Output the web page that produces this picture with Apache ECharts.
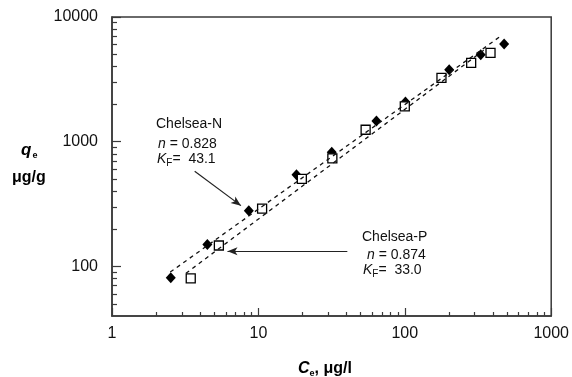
<!DOCTYPE html>
<html>
<head>
<meta charset="utf-8">
<script src="https://cdn.jsdelivr.net/npm/echarts@6/dist/echarts.min.js"></script>
<style>
html,body{margin:0;padding:0;background:#fff;}
#chart{width:572px;height:377px;}
</style>
</head>
<body>
<div id="chart"></div>
<script>
// ---- data ----
const chelseaN_C = [2.52, 4.48, 8.6, 18.2, 31.7, 64, 101, 201, 330, 477];
const chelseaN_q = [81, 150, 279, 542, 822, 1465, 2080, 3770, 4990, 6080];
const chelseaP_C = [3.45, 5.37, 10.6, 19.8, 32.0, 54, 100, 178, 284, 385];
const chelseaP_q = [80, 147, 291, 503, 736, 1247, 1923, 3250, 4285, 5150];
// fitted (dashed) line end points
const fitN_C = [2.5, 450];
const fitN_q = [90, 7000];
const fitP_C = [3.2, 360];
const fitP_q = [88, 5600];
// arrows (data coordinates): start -> tip
const arrowN_C = [3.67, 7.6];
const arrowN_q = [580, 307];
const arrowP_C = [40.5, 6.15];
const arrowP_q = [132, 132];
// tick labels
const xTickLabels = [1, 10, 100, 1000];
const yTickLabels = [100, 1000, 10000];
const xMinorTicks = [2,3,4,5,6,7,8,9,20,30,40,50,60,70,80,90,200,300,400,500,600,700,800,900];
const yMinorTicks = [50,60,70,80,90,200,300,400,500,600,700,800,900,2000,3000,4000,5000,6000,7000,8000,9000];

const zip = (a, b) => a.map((v, i) => [v, b[i]]);
const FONT = '"Liberation Sans", Arial, Helvetica, sans-serif';
const AX = '#3a3a3a';

const chart = echarts.init(document.getElementById('chart'), null, {renderer: 'canvas'});

function xAxisDef(major) {
  return {
    type: 'log', logBase: 10, min: 1, max: 1000, gridIndex: 0,
    position: 'bottom',
    axisLine: {show: major, lineStyle: {color: AX, width: 1.5}},
    axisTick: {show: true, inside: true, length: major ? 8 : 4,
      lineStyle: {color: AX, width: 1.2},
      customValues: major ? xTickLabels : xMinorTicks},
    axisLabel: {show: major, margin: 10, color: '#111', fontSize: 16, fontFamily: FONT,
      customValues: xTickLabels, formatter: v => String(Math.round(v))},
    splitLine: {show: false}, minorTick: {show: false}
  };
}
function yAxisDef(major) {
  return {
    type: 'log', logBase: 10, min: 40, max: 10000, gridIndex: 0,
    position: 'left',
    axisLine: {show: major, lineStyle: {color: AX, width: 1.5}},
    axisTick: {show: true, inside: true, length: major ? 9 : 5,
      lineStyle: {color: AX, width: 1.2},
      customValues: major ? yTickLabels : yMinorTicks},
    axisLabel: {show: major, margin: 14, color: '#111', fontSize: 16, fontFamily: FONT,
      customValues: yTickLabels, formatter: v => String(Math.round(v))},
    splitLine: {show: false}, minorTick: {show: false}
  };
}

const lineStyleDash = {color: '#111', width: 1.3, type: [4, 4]};
const arrowLine = (C, q) => [{coord: [C[0], q[0]]}, {coord: [C[1], q[1]]}];

chart.setOption({
  animation: false,
  backgroundColor: '#fff',
  grid: {left: 112, right: 19, top: 17, bottom: 61, show: true,
    borderColor: AX, borderWidth: 1.5, backgroundColor: 'transparent'},
  xAxis: [xAxisDef(true), xAxisDef(false)],
  yAxis: [yAxisDef(true), yAxisDef(false)],
  series: [
    {type: 'line', name: 'fitN', data: zip(fitN_C, fitN_q), showSymbol: false, symbol: 'none',
      lineStyle: lineStyleDash, z: 5, silent: true},
    {type: 'line', name: 'fitP', data: zip(fitP_C, fitP_q), showSymbol: false, symbol: 'none',
      lineStyle: lineStyleDash, z: 5, silent: true},
    {type: 'scatter', name: 'Chelsea-N', data: zip(chelseaN_C, chelseaN_q), symbol: 'diamond',
      symbolSize: [10, 11], itemStyle: {color: '#000', opacity: 1}, z: 3},
    {type: 'scatter', name: 'Chelsea-P', data: zip(chelseaP_C, chelseaP_q), symbol: 'rect',
      symbolSize: 9, itemStyle: {color: '#fff', borderColor: '#000', borderWidth: 1.3, opacity: 1}, z: 3},
    {type: 'scatter', name: 'arrows', data: [], z: 6, silent: true,
      markLine: {silent: true, symbol: ['none', 'arrow'], symbolSize: [6, 10],
        label: {show: false}, emphasis: {disabled: true},
        lineStyle: {color: '#222', width: 1.2, type: 'solid'},
        data: [arrowLine(arrowN_C, arrowN_q), arrowLine(arrowP_C, arrowP_q)]}}
  ],
  graphic: [
    // y-axis title
    {type: 'text', left: 21, top: 142, style: {
      text: '{q|q}{e|e}', rich: {
        q: {fontFamily: FONT, fontSize: 17, fontWeight: 'bold', fontStyle: 'italic', fill: '#000'},
        e: {fontFamily: FONT, fontSize: 9, fontWeight: 'bold', fill: '#000', padding: [10, 0, 0, 1]}
      }}},
    {type: 'text', left: 12, top: 170, style: {
      text: 'μg/g', fontFamily: FONT, fontSize: 16, fontWeight: 'bold', fill: '#000'}},
    // x-axis title
    {type: 'text', left: 298, top: 361, style: {
      text: '{c|C}{e|e}{t|, μg/l}', rich: {
        c: {fontFamily: FONT, fontSize: 16, fontWeight: 'bold', fontStyle: 'italic', fill: '#000'},
        e: {fontFamily: FONT, fontSize: 9, fontWeight: 'bold', fill: '#000', padding: [9, 0, 0, 0]},
        t: {fontFamily: FONT, fontSize: 16, fontWeight: 'bold', fill: '#000'}
      }}},
    // Chelsea-N annotation
    {type: 'text', left: 156, top: 117, style: {
      text: 'Chelsea-N', fontFamily: FONT, fontSize: 14, fill: '#111'}},
    {type: 'text', left: 158, top: 137, style: {
      text: '{i|n}{t| = 0.828}', rich: {
        i: {fontFamily: FONT, fontSize: 14, fontStyle: 'italic', fill: '#111'},
        t: {fontFamily: FONT, fontSize: 14, fill: '#111'}}}},
    {type: 'text', left: 157, top: 152, style: {
      text: '{i|K}{s|F}{t|=  43.1}', rich: {
        i: {fontFamily: FONT, fontSize: 14, fontStyle: 'italic', fill: '#111'},
        s: {fontFamily: FONT, fontSize: 10, fill: '#111', padding: [8, 0, 0, 0]},
        t: {fontFamily: FONT, fontSize: 14, fill: '#111'}}}},
    // Chelsea-P annotation
    {type: 'text', left: 362, top: 230, style: {
      text: 'Chelsea-P', fontFamily: FONT, fontSize: 14, fill: '#111'}},
    {type: 'text', left: 367, top: 248, style: {
      text: '{i|n}{t| = 0.874}', rich: {
        i: {fontFamily: FONT, fontSize: 14, fontStyle: 'italic', fill: '#111'},
        t: {fontFamily: FONT, fontSize: 14, fill: '#111'}}}},
    {type: 'text', left: 363, top: 263, style: {
      text: '{i|K}{s|F}{t|=  33.0}', rich: {
        i: {fontFamily: FONT, fontSize: 14, fontStyle: 'italic', fill: '#111'},
        s: {fontFamily: FONT, fontSize: 10, fill: '#111', padding: [8, 0, 0, 0]},
        t: {fontFamily: FONT, fontSize: 14, fill: '#111'}}}}
  ]
});
</script>
</body>
</html>
